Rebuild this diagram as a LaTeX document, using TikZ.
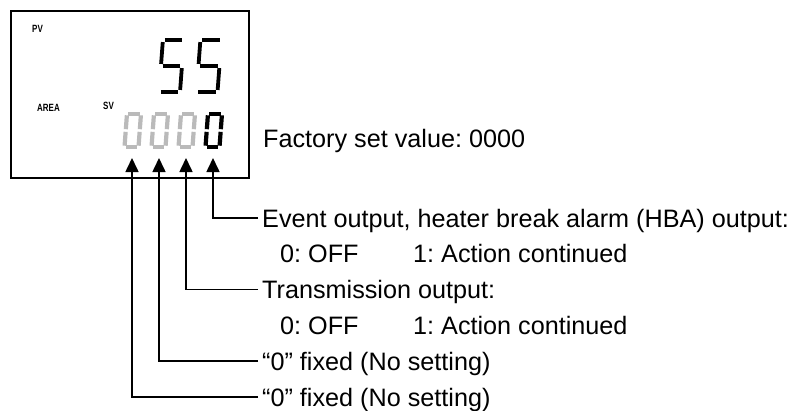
\documentclass[tikz,border=0pt]{standalone}
\usepackage{fontspec}
\setmainfont{Liberation Sans}
\usetikzlibrary{arrows.meta, positioning}
\frenchspacing

% segments of a unit seven-segment digit (origin at lower left)
\def\sega{(0.09,-1) -- (0.91,-1)}
\def\segb{(1,-0.96) -- (1,-0.54)}
\def\segc{(1,-0.46) -- (1,-0.04)}
\def\segd{(0.09,0) -- (0.91,0)}
\def\sege{(0,-0.46) -- (0,-0.04)}
\def\segf{(0,-0.96) -- (0,-0.54)}
\def\segg{(0.09,-0.5) -- (0.91,-0.5)}
\newcommand{\segdigit}[5]{%
  \begin{scope}[shift={#1}, xslant=0.075, xscale=#2, yscale=#3]
    \foreach \s in {#4} {\draw[#5] \csname seg\s\endcsname;}
  \end{scope}}

\begin{document}
\begin{tikzpicture}[
  x=1pt, y=-1pt,
  lbl/.style={inner xsep=4pt, inner ysep=0pt, text height=18pt, text depth=0pt,
    anchor=west, font=\fontsize{25.2}{30}\selectfont},
  tag/.style={inner sep=0pt, anchor=west, font=\fontsize{10.5}{12}\selectfont\bfseries},
  arrow/.style={line width=1.6pt, -{Triangle[length=14pt, width=13pt]}},
  pvseg/.style={line width=3.8pt},
  svoff/.style={line width=4.2pt, black!27},
  svon/.style={line width=4.2pt}
]
  \useasboundingbox (0,0) rectangle (794,410);

  \node (lcd) [draw, line width=1.6pt, minimum width=238pt, minimum height=167pt,
    inner sep=0pt, anchor=north west] at (10,10) {};

  \node (pv) [tag] at (32,28.5) {\scalebox{0.76}[1]{PV}};
  \node (area) [tag] at (37,107.5) {\scalebox{0.76}[1]{AREA}};
  \node (sv) [tag] at (103,106) {\scalebox{0.76}[1]{SV}};

  % PV display: 55
  \segdigit{(159,92)}{21}{52}{a,f,g,c,d}{pvseg}
  \segdigit{(196.5,92)}{21}{52}{a,f,g,c,d}{pvseg}
  % SV display: 0000
  \segdigit{(124.5,147)}{14}{33}{a,b,c,d,e,f}{svoff}
  \segdigit{(151.5,147)}{14}{33}{a,b,c,d,e,f}{svoff}
  \segdigit{(178.5,147)}{14}{33}{a,b,c,d,e,f}{svoff}
  \segdigit{(205.5,147)}{14}{33}{a,b,c,d,e,f}{svon}

  \coordinate (tip1) at (132,158);
  \coordinate (tip2) at (159,158);
  \coordinate (tip3) at (186,158);
  \coordinate (tip4) at (213,158);

  \node (factory) [lbl] at (259,138) {Factory set value: 0000};
  \node (event) [lbl] at (258,218) {Event output, heater break alarm (HBA) output:};
  \node (off1) [lbl] at (276,253.8) {0: OFF};
  \node (act1) [lbl] at (409,253.8) {1: Action continued};
  \node (trans) [lbl] at (258,289.6) {Transmission output:};
  \node (off2) [lbl] at (276,325.4) {0: OFF};
  \node (act2) [lbl] at (409,325.4) {1: Action continued};
  \node (fix1) [lbl] at (258,361.2) {``0'' fixed (No setting)};
  \node (fix2) [lbl] at (258,397) {``0'' fixed (No setting)};

  \draw [arrow] (event.west) -| (tip4);
  \draw [arrow] (trans.west) -| (tip3);
  \draw [arrow] (fix1.west) -| (tip2);
  \draw [arrow] (fix2.west) -| (tip1);
\end{tikzpicture}
\end{document}
